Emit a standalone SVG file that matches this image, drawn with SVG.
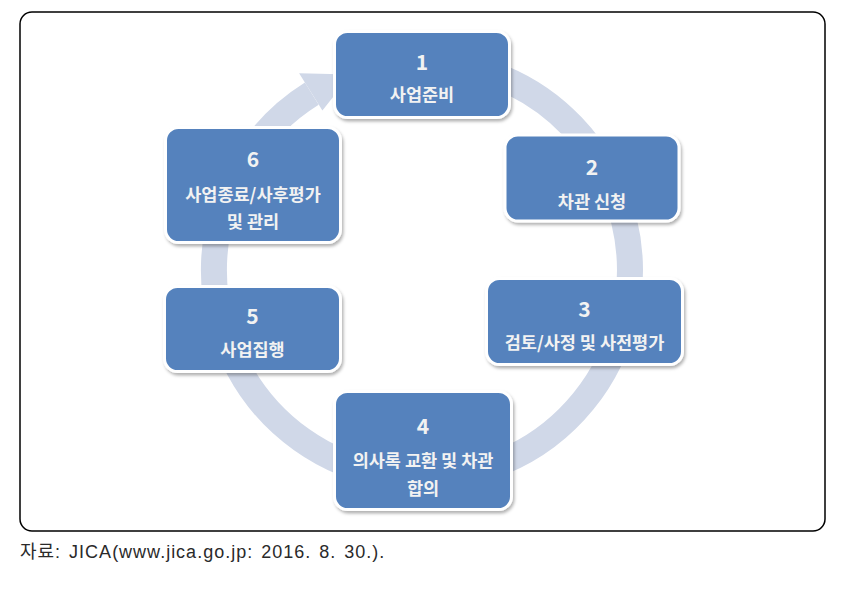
<svg xmlns="http://www.w3.org/2000/svg" width="851" height="607" viewBox="0 0 851 607">
<style>
.frame{fill:#ffffff;stroke:#000000;stroke-width:1.5}
.box{fill:#5482BD;stroke:#ffffff;stroke-width:3;filter:url(#sh)}
.num{font-family:"Noto Sans CJK KR","Liberation Sans",sans-serif;font-weight:bold;font-size:21px;fill:#F2F2F2;text-anchor:middle;dominant-baseline:central}
.lbl{font-family:"Noto Sans CJK KR","Liberation Sans",sans-serif;font-weight:bold;font-size:17.5px;fill:#F2F2F2;text-anchor:middle;dominant-baseline:central}
.cap{font-family:"Liberation Sans","Noto Sans CJK KR",sans-serif;font-size:18px;fill:#2a2a2a;letter-spacing:1px;word-spacing:2px}
.ring{fill:none;stroke:#D0D8E8;stroke-width:26}
</style>
<defs>
<filter id="sh" x="-10%" y="-10%" width="125%" height="130%">
<feDropShadow dx="1.5" dy="2.5" stdDeviation="1.8" flood-color="#000000" flood-opacity="0.3"/>
</filter>
</defs>
<rect class="frame" x="20" y="12" width="805" height="519" rx="12" ry="12"/>
<g id="connectors">
<path class="ring" d="M 385.9 65.2 A 208 208 0 1 1 311.8 93.6"/>
<polygon fill="#D0D8E8" points="299.1,73.3 350.9,74.5 322.4,110.6 318.7,104.6 304.9,82.6"/>
</g>
<g id="node1">
<rect class="box" x="334.5" y="31.5" width="175" height="86" rx="13"/>
<text class="num" x="422" y="61">1</text>
<text class="lbl" x="422" y="93">사업준비</text>
</g>
<g id="node2">
<rect class="box" x="505" y="135" width="174" height="86" rx="13"/>
<text class="num" x="592" y="166">2</text>
<text class="lbl" x="592" y="200">차관 신청</text>
</g>
<g id="node3">
<rect class="box" x="486.5" y="278.5" width="196" height="86" rx="13"/>
<text class="num" x="584.5" y="308">3</text>
<text class="lbl" x="584.5" y="341">검토/사정 및 사전평가</text>
</g>
<g id="node4">
<rect class="box" x="334.5" y="391.5" width="177" height="118" rx="13"/>
<text class="num" x="423" y="425">4</text>
<text class="lbl" x="423" y="459">의사록 교환 및 차관</text>
<text class="lbl" x="423" y="487">합의</text>
</g>
<g id="node5">
<rect class="box" x="164.5" y="286.5" width="176" height="85" rx="13"/>
<text class="num" x="252.5" y="315">5</text>
<text class="lbl" x="252.5" y="348">사업집행</text>
</g>
<g id="node6">
<rect class="box" x="165.5" y="127.5" width="175" height="115" rx="13"/>
<text class="num" x="253" y="158">6</text>
<text class="lbl" x="253" y="193">사업종료/사후평가</text>
<text class="lbl" x="253" y="220">및 관리</text>
</g>
<text class="cap" x="20" y="558">자료: JICA(www.jica.go.jp: 2016. 8. 30.).</text>
</svg>
